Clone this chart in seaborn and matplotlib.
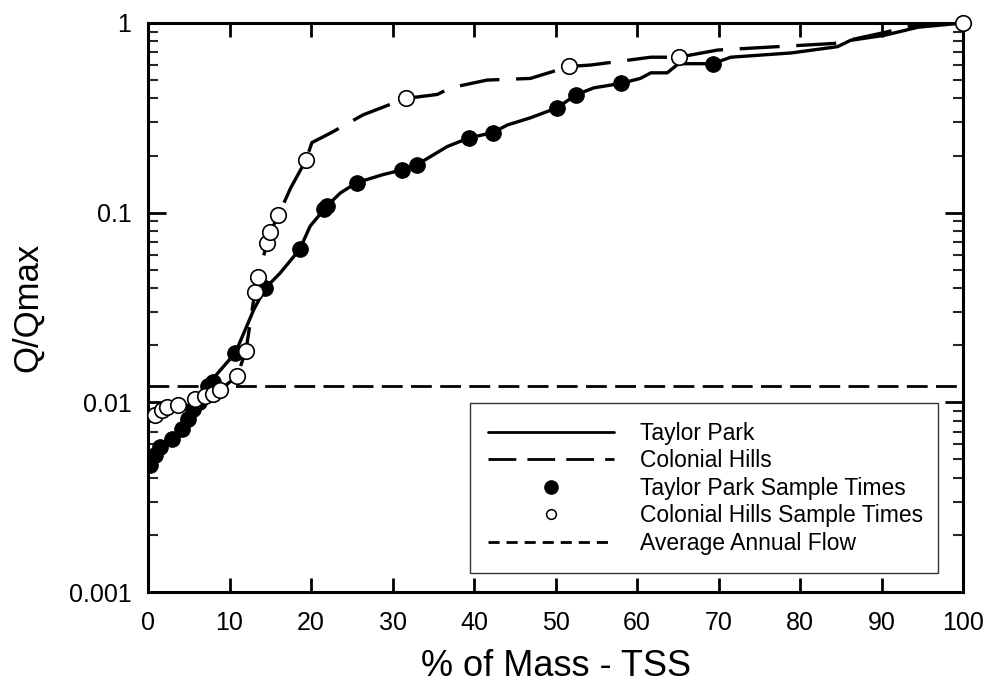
import numpy as np
import pandas as pd
import matplotlib
matplotlib.use("Agg")
import matplotlib.pyplot as plt
import seaborn as sns
from matplotlib.lines import Line2D
from matplotlib.ticker import LogLocator, FixedLocator, NullFormatter

# ─── Data ────────────────────────────────────────────────────────────────────

# Taylor Park flow curve (solid line)
tp_line_x = [0.0, 0.25, 0.9, 1.5, 3.0, 4.2, 4.9, 5.5, 6.2, 7.4, 9.0, 10.7,
             11.9, 13.0, 14.4, 16.2, 18.6, 19.9, 21.6, 21.9, 23.6, 25.6, 28.9,
             31.2, 33.0, 36.7, 39.4, 42.3, 44.1, 46.9, 50.2, 52.5, 54.7, 58.0,
             60.4, 61.7, 63.7, 65.1, 69.3, 71.5, 78.9, 84.6, 86.2, 90.3, 94.5,
             100.0]
tp_line_y = [0.0045, 0.0047, 0.0053, 0.0058, 0.0064, 0.0072, 0.0082, 0.0092,
             0.0100, 0.0125, 0.0150, 0.0182, 0.024, 0.031, 0.040, 0.048, 0.064,
             0.085, 0.104, 0.108, 0.127, 0.144, 0.159, 0.168, 0.179, 0.223,
             0.248, 0.264, 0.290, 0.316, 0.357, 0.418, 0.455, 0.480, 0.510,
             0.546, 0.546, 0.610, 0.610, 0.660, 0.695, 0.750, 0.810, 0.860,
             0.950, 1.0]

# Taylor Park sample times (filled circles)
tp_pts_x = [0.25, 0.9, 1.5, 3.0, 4.2, 4.9, 5.5, 6.2, 7.4, 8.0, 10.7, 14.4,
            18.6, 21.6, 21.9, 25.6, 31.2, 33.0, 39.4, 42.3, 50.2, 52.5, 58.0,
            69.3]
tp_pts_y = [0.0047, 0.0053, 0.0058, 0.0064, 0.0072, 0.0082, 0.0092, 0.0100,
            0.0122, 0.0128, 0.0182, 0.040, 0.064, 0.104, 0.108, 0.144, 0.168,
            0.179, 0.248, 0.264, 0.357, 0.418, 0.480, 0.610]

# Colonial Hills flow curve (long-dash line)
ch_line_x = [0.0, 0.9, 1.7, 2.3, 3.7, 5.8, 7.0, 8.0, 8.8, 10.9, 12.0, 13.1,
             13.5, 14.6, 15.0, 16.0, 17.5, 19.4, 20.1, 22.4, 26.4, 31.6, 35.5,
             37.1, 41.6, 46.9, 51.7, 54.3, 61.7, 65.1, 69.9, 84.2, 90.3, 94.5,
             100.0]
ch_line_y = [0.0078, 0.0086, 0.0091, 0.0094, 0.0097, 0.0104, 0.0108, 0.0111,
             0.0116, 0.0137, 0.0186, 0.038, 0.046, 0.069, 0.079, 0.097, 0.135,
             0.190, 0.234, 0.263, 0.328, 0.400, 0.420, 0.455, 0.500, 0.510,
             0.590, 0.600, 0.660, 0.660, 0.720, 0.780, 0.890, 0.980, 1.0]

# Colonial Hills sample times (open circles)
ch_pts_x = [0.9, 1.7, 2.3, 3.7, 5.8, 7.0, 8.0, 8.8, 10.9, 12.0, 13.1, 13.5,
            14.6, 15.0, 16.0, 19.4, 31.6, 51.7, 65.1, 100.0]
ch_pts_y = [0.0086, 0.0091, 0.0094, 0.0097, 0.0104, 0.0108, 0.0111, 0.0116,
            0.0137, 0.0186, 0.038, 0.046, 0.069, 0.079, 0.097, 0.190, 0.400,
            0.590, 0.660, 1.0]

avg_annual_flow = 0.0122

x_ticks = [0, 10, 20, 30, 40, 50, 60, 70, 80, 90, 100]
y_ticks = [0.001, 0.01, 0.1, 1]
y_tick_labels = ["0.001", "0.01", "0.1", "1"]

legend_labels = ["Taylor Park", "Colonial Hills", "Taylor Park Sample Times",
                 "Colonial Hills Sample Times", "Average Annual Flow"]

# ─── Plot ─────────────────────────────────────────────────────────────────────

sns.set_theme(style="ticks")
plt.rcParams["font.family"] = ["Liberation Sans", "DejaVu Sans"]
plt.rcParams["text.color"] = "black"
plt.rcParams["axes.labelcolor"] = "black"

fig = plt.figure(figsize=(9.87, 6.92), dpi=100)
ax = fig.add_axes([0.150, 0.1445, 0.8257, 0.8223])

tp_line = pd.DataFrame({"x": tp_line_x, "y": tp_line_y})
ch_line = pd.DataFrame({"x": ch_line_x, "y": ch_line_y})
tp_pts = pd.DataFrame({"x": tp_pts_x, "y": tp_pts_y})
ch_pts = pd.DataFrame({"x": ch_pts_x, "y": ch_pts_y})

ax.axhline(avg_annual_flow, color="black", lw=2.0, dashes=(7.5, 3.0), zorder=1)
sns.lineplot(data=tp_line, x="x", y="y", ax=ax, color="black", lw=2.4,
             sort=False, estimator=None, zorder=2)
sns.lineplot(data=ch_line, x="x", y="y", ax=ax, color="black", lw=2.4,
             sort=False, estimator=None, dashes=False, zorder=2)
ax.lines[-1].set_dashes((12, 5))
sns.scatterplot(data=tp_pts, x="x", y="y", ax=ax, color="black", s=125,
                edgecolor="black", linewidth=0.8, zorder=3)
sns.scatterplot(data=ch_pts, x="x", y="y", ax=ax, color="white", s=125,
                edgecolor="black", linewidth=1.2, zorder=4, clip_on=False)

ax.set_yscale("log")
ax.set_xlim(0, 100)
ax.set_ylim(0.001, 1)
ax.xaxis.set_major_locator(FixedLocator(x_ticks))
ax.set_xticklabels([str(t) for t in x_ticks])
ax.yaxis.set_major_locator(FixedLocator(y_ticks))
ax.set_yticklabels(y_tick_labels)
ax.yaxis.set_minor_locator(LogLocator(base=10, subs=np.arange(2, 10)))
ax.yaxis.set_minor_formatter(NullFormatter())

ax.tick_params(which="major", direction="in", length=10, width=2,
               top=True, right=True, labelsize=18, colors="black")
ax.tick_params(axis="y", which="major", length=13, pad=12)
ax.tick_params(axis="x", which="major", pad=14)
ax.tick_params(which="minor", direction="in", length=7, width=1.5,
               left=True, right=True)
for sp in ax.spines.values():
    sp.set_linewidth(2.2)
    sp.set_color("black")

ax.set_xlabel("% of Mass - TSS", fontsize=26, labelpad=10, color="black")
ax.set_ylabel("Q/Qmax", fontsize=25, labelpad=18, color="black")

handles = [
    Line2D([], [], color="black", lw=2.0),
    Line2D([], [], color="black", lw=2.0, dashes=(10, 4)),
    Line2D([], [], ls="none", marker="o", markersize=9.5, mfc="black",
           mec="black"),
    Line2D([], [], ls="none", marker="o", markersize=7, mfc="white",
           mec="black", mew=1.1),
    Line2D([], [], color="black", lw=2.0, dashes=(4, 2.5)),
]
leg = ax.legend(handles, legend_labels, loc="lower left",
                bbox_to_anchor=(0.395, 0.033, 0.574, 0.30), mode="expand",
                fontsize=16.5, handlelength=5.5, handletextpad=1.1,
                borderaxespad=0, frameon=True, fancybox=False,
                labelspacing=0.2, borderpad=0.8)
leg.get_frame().set_edgecolor("black")
leg.get_frame().set_linewidth(1.0)
leg.set_zorder(5)
for t in leg.get_texts():
    t.set_color("black")

fig.savefig("out.png", dpi=100)
